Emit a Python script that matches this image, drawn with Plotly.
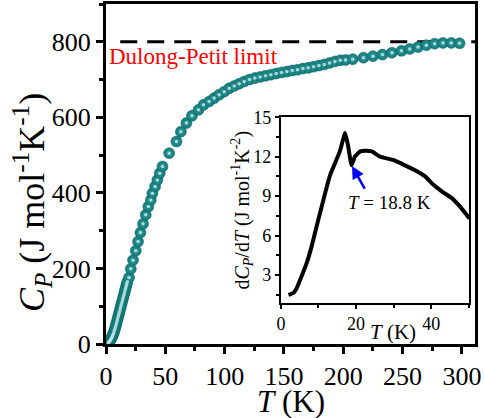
import plotly.graph_objects as go

# ---------------- data ----------------
# main heat capacity curve (T in K, Cp in J mol^-1 K^-1)
T_main = [2, 2.5, 3, 3.5, 4, 4.5, 5, 5.5, 6, 6.5, 7, 7.5, 8, 8.5, 9, 9.5, 10, 10.5,
          11, 11.5, 12, 12.5, 13, 13.5, 14, 14.5, 15, 15.5, 16, 16.5, 17, 17.5, 18,
          19.4, 20.9, 22.8, 25.1, 27.0, 29.0, 31.2, 33.5, 35.7, 37.8, 39.1, 41.4,
          43.3, 45.3, 47.6, 53.2, 59.4, 63.1, 67.8, 72.4, 78.0, 82.2, 87.0, 91.2,
          95.4, 99.7, 103.9, 108.1, 112.3, 116.6, 121, 125.5, 130, 134.5, 139,
          143.5, 148, 152.5, 157, 161.5, 166, 170.5, 175, 179.5, 184, 188.5, 193,
          197.5, 202, 208, 217, 225, 233, 241, 249, 256, 263, 270, 277, 284, 291, 298]
Cp_main = [3, 5, 7, 9.5, 12, 15, 18, 22, 26, 30, 35, 40, 45, 51, 57, 63, 69, 75,
           81, 87, 93, 99, 105, 111, 117, 123, 129, 135, 141, 147, 153, 159, 165,
           176, 199, 222, 247, 271, 295, 318, 342, 364, 381, 399, 417,
           434, 452, 470, 505, 536, 562, 585, 604, 620, 633, 642, 651,
           660, 668, 677, 683, 689, 695, 700, 704, 707, 710, 713,
           716, 719, 721, 724, 726, 729, 731, 734, 737, 740, 744, 748,
           751, 752, 754, 758, 762, 766, 771, 776, 781, 786, 791, 795, 797, 797, 796]

# Dulong-Petit limit
DP_limit = 800
DP_T = [12, 311]

# inset: dCp/dT (J mol^-1 K^-2)
T_ins = [2.0, 3.3, 4.2, 5.5, 6.85, 8.2, 9.5, 10.85, 12.2, 13.1, 14.4, 15.7, 17.1,
         17.9, 18.8, 19.7, 21.1, 22.4, 24.2, 26.4, 29.9, 32.6, 36.2, 38.4, 40.6,
         42.9, 45.5, 47.7, 50.2]
dCp_ins = [1.5, 1.64, 2.0, 2.9, 3.9, 5.2, 6.7, 8.2, 9.7, 10.6, 11.5, 12.4, 13.8,
           12.8, 11.35, 12.0, 12.4, 12.45, 12.4, 12.0, 11.75, 11.4, 10.9, 10.5, 9.86,
           9.35, 8.85, 8.2, 7.3]

kink_T = 18.8
kink_val = 11.35

main_xticks = [0, 50, 100, 150, 200, 250, 300]
main_yticks = [0, 200, 400, 600, 800]
ins_xticks = [0, 20, 40]
ins_yticks = [3, 6, 9, 12, 15]

SERIF = "Liberation Serif, Times New Roman, serif"

fig = go.Figure()

fig.add_trace(go.Scatter(
    x=DP_T, y=[DP_limit, DP_limit], mode="lines",
    line=dict(color="black", width=3, dash="17px,10px"),
    hoverinfo="skip", showlegend=False))

# sphere body
fig.add_trace(go.Scatter(
    x=T_main, y=Cp_main, mode="markers",
    marker=dict(size=11, color="#137c7c",
                line=dict(color="#0c6262", width=0.5),
                gradient=dict(type="radial", color="#2f9696")),
    showlegend=False))
# sphere highlight
fig.add_trace(go.Scatter(
    x=T_main, y=Cp_main, mode="markers",
    marker=dict(size=3.5, color="#bfe6e6", opacity=0.85, line=dict(width=0)),
    hoverinfo="skip", showlegend=False))

fig.add_trace(go.Scatter(
    x=T_ins, y=dCp_ins, mode="lines", xaxis="x2", yaxis="y2",
    line=dict(color="black", width=4, shape="spline", smoothing=0.4),
    showlegend=False))

axis_common = dict(showgrid=False, zeroline=False, showline=True, linecolor="black",
                   mirror=True, ticks="outside", tickcolor="black", automargin=False)

fig.update_layout(
    width=485, height=418,
    margin=dict(l=106, r=10, t=4, b=74, autoexpand=False),
    paper_bgcolor="white", plot_bgcolor="white",
    font=dict(family=SERIF, color="black"),
    xaxis=dict(range=[0, 311], tickvals=main_xticks, linewidth=3, ticklen=7, tickwidth=2.5,
               tickfont=dict(size=26, family=SERIF),
               minor=dict(dtick=25, tick0=0, ticklen=4, tickwidth=2.5, ticks="outside"),
               **axis_common),
    yaxis=dict(range=[0, 900], tickvals=main_yticks, linewidth=3, ticklen=7, tickwidth=2.5,
               tickfont=dict(size=26, family=SERIF),
               minor=dict(dtick=100, tick0=0, ticklen=4, tickwidth=2.5, ticks="outside"),
               **axis_common),
    xaxis2=dict(domain=[0.474, 0.985], anchor="y2", range=[0, 50.2], tickvals=ins_xticks,
                linewidth=2, ticklen=4, tickwidth=1.5, tickfont=dict(size=18, family=SERIF),
                minor=dict(dtick=10, tick0=0, ticklen=3, tickwidth=1.5, ticks="outside"),
                **axis_common),
    yaxis2=dict(domain=[0.1215, 0.667], anchor="x2", range=[0.9, 15], tickvals=ins_yticks,
                linewidth=2, ticklen=4, tickwidth=1.5, tickfont=dict(size=18, family=SERIF),
                minor=dict(dtick=1.5, tick0=0, ticklen=3, tickwidth=1.5, ticks="outside"),
                **axis_common),
)

annotations = [
    # main axis titles
    dict(text="<i>T</i> (K)", xref="paper", yref="paper", x=0.5, y=-0.169,
         xanchor="center", yanchor="middle", showarrow=False, font=dict(size=31)),
    dict(text="<i>C<sub>P</sub></i> (J mol<sup>-1</sup>K<sup>-1</sup>)", xref="paper", yref="paper",
         x=-0.2, y=0.415, xanchor="center", yanchor="middle", textangle=-90,
         showarrow=False, font=dict(size=36)),
    # Dulong-Petit label
    dict(text="Dulong-Petit limit", xref="paper", yref="paper", x=0.003, y=0.845,
         xanchor="left", yanchor="middle", showarrow=False, font=dict(size=23, color="red")),
    # inset titles
    dict(text="<i>T</i> (K)", xref="paper", yref="paper", x=0.778, y=0.035,
         xanchor="center", yanchor="middle", showarrow=False, font=dict(size=21)),
    dict(text="d<i>C<sub>P</sub></i>/d<i>T</i> (J mol<sup>-1</sup>K<sup>-2</sup>)",
         xref="paper", yref="paper", x=0.37, y=0.394, xanchor="center", yanchor="middle",
         textangle=-90, showarrow=False, font=dict(size=20)),
    # kink label and arrow
    dict(text="<i>T</i> = 18.8 K", xref="x2", yref="y2", x=28.8, y=8.5,
         xanchor="center", yanchor="middle", showarrow=False, font=dict(size=19)),
    dict(text="", xref="x2", yref="y2", x=kink_T, y=kink_val, ax=14, ay=25,
         showarrow=True, arrowhead=2, arrowsize=1, arrowwidth=2.5, arrowcolor="blue",
         standoff=1),
]
fig.update_layout(annotations=annotations)

fig.write_html("out.html", config={"displayModeBar": False},
               post_script="document.body.style.margin='0px';document.body.style.overflow='hidden';")
